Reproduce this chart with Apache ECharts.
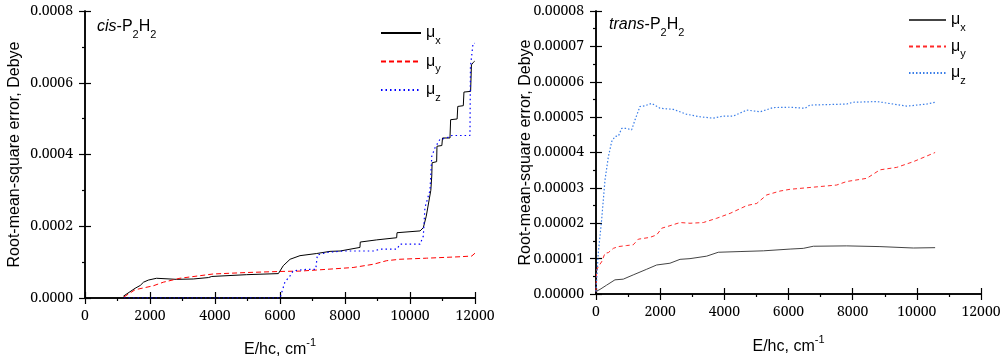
<!DOCTYPE html>
<html>
<head>
<meta charset="utf-8">
<script src="https://cdn.jsdelivr.net/npm/echarts@6/dist/echarts.min.js"></script>
<style>
  html, body { margin: 0; padding: 0; background: #fff; }
  #chart { width: 1004px; height: 364px; }
</style>
</head>
<body>
<div id="chart"></div>
<script>
  // x ticks (cm-1)
  var xTicks = [0, 2000, 4000, 6000, 8000, 10000, 12000]
  var cisYTicks = [0, 0.0002, 0.0004, 0.0006, 0.0008]
  var transYTicks = [0, 0.00001, 0.00002, 0.00003, 0.00004, 0.00005, 0.00006, 0.00007, 0.00008]
  var seriesNames = ['μx', 'μy', 'μz']

  // cis-P2H2: [E/hc, rms error]
  var cisMuX = [[1180, 0.000005], [1540, 0.000027], [1700, 0.000035], [1800, 0.000044], [1950, 0.00005],
    [2200, 0.000055], [2820, 0.000052], [3330, 0.000053], [3800, 0.000057], [3900, 0.00006],
    [4970, 0.000065], [5950, 0.000068], [6100, 0.00009], [6310, 0.000108], [6615, 0.000118],
    [7130, 0.000124], [7540, 0.00013], [7850, 0.000131], [8460, 0.000141], [8470, 0.000156],
    [8975, 0.000162], [9590, 0.000168], [9600, 0.000182], [10310, 0.000187], [10410, 0.000196],
    [10500, 0.000228], [10560, 0.000233], [10640, 0.0003], [10670, 0.00034], [10680, 0.000377],
    [10820, 0.00038], [10830, 0.000423], [10980, 0.000425], [11000, 0.000446], [11230, 0.000446],
    [11250, 0.000497], [11450, 0.000499], [11470, 0.000534], [11640, 0.000536], [11660, 0.000574],
    [11865, 0.000576], [11890, 0.00065], [11950, 0.000657], [11990, 0.00066]]
  var cisMuY = [[1200, 0.000003], [1540, 0.000023], [2100, 0.000034], [2410, 0.000044], [2920, 0.000055],
    [3950, 0.000067], [4970, 0.000071], [6000, 0.000074], [6615, 0.000075], [7130, 0.000078],
    [8250, 0.000085], [8870, 0.000094], [9280, 0.000104], [9690, 0.000108], [10510, 0.000111],
    [11540, 0.000115], [11900, 0.000117], [12000, 0.000125]]
  var cisMuZ = [[1200, 0], [6000, 0], [6150, 0.000044], [6310, 0.000062], [6410, 0.000076],
    [6820, 0.00008], [7100, 0.00008], [7150, 0.00012], [7440, 0.000127], [7950, 0.000131],
    [8870, 0.000131], [9080, 0.000136], [9600, 0.000136], [9690, 0.00015], [10310, 0.00015],
    [10410, 0.000173], [10460, 0.000252], [10615, 0.0003], [10670, 0.000395], [10770, 0.000419],
    [10920, 0.000442], [11130, 0.000446], [11280, 0.000453], [11845, 0.000453], [11860, 0.000645],
    [11940, 0.00071], [11990, 0.00071]]

  // trans-P2H2
  var transMuX = [[0, 0.0000007], [125, 0.0000013], [330, 0.0000025], [590, 0.000004], [850, 0.0000042],
    [1160, 0.0000054], [1580, 0.000007], [1890, 0.0000082], [2305, 0.0000087], [2620, 0.0000098],
    [2930, 0.00001], [3450, 0.0000107], [3810, 0.0000118], [4490, 0.000012], [5215, 0.0000122],
    [6050, 0.0000127], [6460, 0.0000129], [6775, 0.0000135], [7815, 0.0000136], [8850, 0.0000134],
    [9890, 0.000013], [10570, 0.0000131]]
  var transMuY = [[0, 0.0000007], [20, 0.0000068], [70, 0.0000077], [175, 0.0000091], [280, 0.0000115],
    [385, 0.0000117], [540, 0.0000129], [695, 0.0000134], [955, 0.0000137], [1160, 0.0000139],
    [1320, 0.0000155], [1680, 0.000016], [1890, 0.0000167], [2050, 0.0000186], [2305, 0.0000193],
    [2620, 0.0000202], [2930, 0.00002], [3345, 0.0000202], [3760, 0.0000214], [4180, 0.0000228],
    [4700, 0.000025], [5010, 0.0000256], [5320, 0.000028], [5735, 0.0000291], [6050, 0.0000296],
    [6775, 0.0000302], [7500, 0.0000308], [7815, 0.0000318], [8440, 0.0000327], [8850, 0.0000351],
    [9375, 0.0000358], [9890, 0.0000374], [10310, 0.000039], [10570, 0.00004]]
  var transMuZ = [[0, 0.0000007], [70, 0.0000115], [175, 0.0000209], [280, 0.0000322], [385, 0.0000388],
    [490, 0.0000431], [590, 0.0000445], [700, 0.0000447], [800, 0.0000468], [955, 0.0000468],
    [1110, 0.0000464], [1215, 0.0000492], [1370, 0.000053], [1525, 0.0000532], [1735, 0.0000539],
    [1995, 0.0000525], [2410, 0.0000522], [2825, 0.0000508], [3240, 0.0000501], [3655, 0.0000497],
    [3970, 0.0000503], [4280, 0.0000503], [4700, 0.000052], [5110, 0.0000515], [5525, 0.0000527],
    [6050, 0.0000528], [6515, 0.0000525], [6670, 0.0000534], [7815, 0.0000537], [8020, 0.0000542],
    [8750, 0.0000544], [9265, 0.0000537], [9685, 0.0000531], [10310, 0.0000537], [10570, 0.0000542]]

  var serif = 'Noto Serif'
  var sans = 'Liberation Sans'
  var axisLine = { show: true, lineStyle: { color: '#000', width: 1.5 } }
  var tickStyle = { color: '#000', width: 1.2 }
  // tick label style goes through rich text so the font is applied
  var tickRich = { t: { fontFamily: serif, fontSize: 14, color: '#000' } }

  var subRich = {
    m: { fontFamily: sans, fontSize: 16, fontWeight: 'normal', color: '#000', lineHeight: 18, verticalAlign: 'middle' },
    s: { fontFamily: sans, fontSize: 11, fontWeight: 'normal', color: '#000', lineHeight: 11, verticalAlign: 'bottom', padding: [0, 0, -4, 0] },
    i: { fontFamily: sans, fontSize: 16, fontWeight: 'normal', color: '#000', fontStyle: 'italic', lineHeight: 18 }
  }

  function bottomAxis(grid, gap) {
    return {
      type: 'value', gridIndex: grid, min: 0, max: 12000, interval: 2000,
      axisLine: axisLine,
      axisTick: { show: true, inside: false, length: 6, lineStyle: tickStyle },
      minorTick: { show: true, splitNumber: 2, length: 3, lineStyle: tickStyle },
      splitLine: { show: false },
      axisLabel: { margin: 11, rich: tickRich,
        formatter: function(v) { return '{t|' + String(v) + '}' } },
      name: 'E/hc, cm{sup|-1}',
      nameLocation: 'middle',
      nameGap: gap,
      nameMoveOverlap: false,
      nameTextStyle: {
        fontFamily: sans, fontSize: 16, color: '#000', lineHeight: 18,
        rich: { sup: { fontFamily: sans, fontSize: 11, color: '#000', lineHeight: 10, verticalAlign: 'top', padding: [-4, 0, 0, 0] } }
      }
    }
  }
  function topAxis(grid) {
    return {
      type: 'value', gridIndex: grid, position: 'top', min: 0, max: 12000, interval: 2000,
      axisLine: axisLine,
      axisTick: { show: true, inside: false, length: 6, lineStyle: tickStyle },
      axisLabel: { show: false }, splitLine: { show: false }
    }
  }
  function leftAxis(grid, max, interval, dec, gap) {
    return {
      type: 'value', gridIndex: grid, min: 0, max: max, interval: interval,
      axisLine: axisLine,
      axisTick: { show: true, inside: false, length: 6, lineStyle: tickStyle },
      minorTick: { show: true, splitNumber: 2, length: 3, lineStyle: tickStyle },
      splitLine: { show: false },
      axisLabel: { margin: 12, rich: tickRich,
        formatter: function(v) { return '{t|' + v.toFixed(dec) + '}' } },
      name: 'Root-mean-square error, Debye',
      nameLocation: 'middle', nameGap: gap,
      nameMoveOverlap: false,
      nameTextStyle: { fontFamily: sans, fontSize: 16, color: '#000' }
    }
  }
  function rightAxis(grid, max, interval) {
    return {
      type: 'value', gridIndex: grid, position: 'right', min: 0, max: max, interval: interval,
      axisLine: axisLine,
      axisTick: { show: true, inside: false, length: 6, lineStyle: tickStyle },
      axisLabel: { show: false }, splitLine: { show: false }
    }
  }
  function line(name, data, xi, yi, color, type, width) {
    return {
      name: name, type: 'line', xAxisIndex: xi, yAxisIndex: yi, data: data,
      symbol: 'none', smooth: false, animation: false,
      lineStyle: { color: color, width: width, type: type },
      itemStyle: { color: color }
    }
  }
  function legendFmt(n) { return '{m|μ}{s|' + n.trim().slice(1) + '}' }
  var hiddenSymbol = { color: 'rgba(0,0,0,0)', borderColor: 'rgba(0,0,0,0)', borderWidth: 0 }

  var chart = echarts.init(document.getElementById('chart'))
  chart.setOption({
    backgroundColor: '#fff',
    animation: false,
    title: [
      { text: '{i|cis}{m|-P}{s|2}{m|H}{s|2}', left: 97, top: 18, padding: 0, textStyle: { fontWeight: 'normal', rich: subRich } },
      { text: '{i|trans}{m|-P}{s|2}{m|H}{s|2}', left: 609, top: 16, padding: 0, textStyle: { fontWeight: 'normal', rich: subRich } }
    ],
    grid: [
      { left: 85, right: 529, top: 11, bottom: 65 },
      { left: 596, right: 23, top: 11, bottom: 70 }
    ],
    legend: [
      {
        data: seriesNames,
        orient: 'vertical', left: 380, top: 25, padding: 0, itemWidth: 40, itemHeight: 14, itemGap: 7.5,
        itemStyle: hiddenSymbol,
        formatter: legendFmt, textStyle: { rich: subRich }
      },
      {
        data: seriesNames.map(function(n) { return n + ' ' }),
        orient: 'vertical', left: 908, top: 12, padding: 0, itemWidth: 37, itemHeight: 14, itemGap: 5.5,
        itemStyle: hiddenSymbol,
        formatter: legendFmt, textStyle: { rich: subRich }
      }
    ],
    xAxis: [bottomAxis(0, 43), topAxis(0), bottomAxis(1, 44), topAxis(1)],
    yAxis: [
      leftAxis(0, 0.0008, 0.0002, 4, 62), rightAxis(0, 0.0008, 0.0002),
      leftAxis(1, 0.00008, 0.00001, 5, 62), rightAxis(1, 0.00008, 0.00001)
    ],
    series: [
      line(seriesNames[0], cisMuX, 0, 0, '#000000', 'solid', 1),
      line(seriesNames[1], cisMuY, 0, 0, '#ff0000', [5, 3], 1),
      line(seriesNames[2], cisMuZ, 0, 0, '#0000ff', [1.5, 3], 1.2),
      line(seriesNames[0] + ' ', transMuX, 2, 2, '#444444', 'solid', 1),
      line(seriesNames[1] + ' ', transMuY, 2, 2, '#ff2a2a', [4, 3], 1),
      line(seriesNames[2] + ' ', transMuZ, 2, 2, '#3a7ee8', [1.5, 2], 1.2)
    ]
  })
</script>
</body>
</html>
